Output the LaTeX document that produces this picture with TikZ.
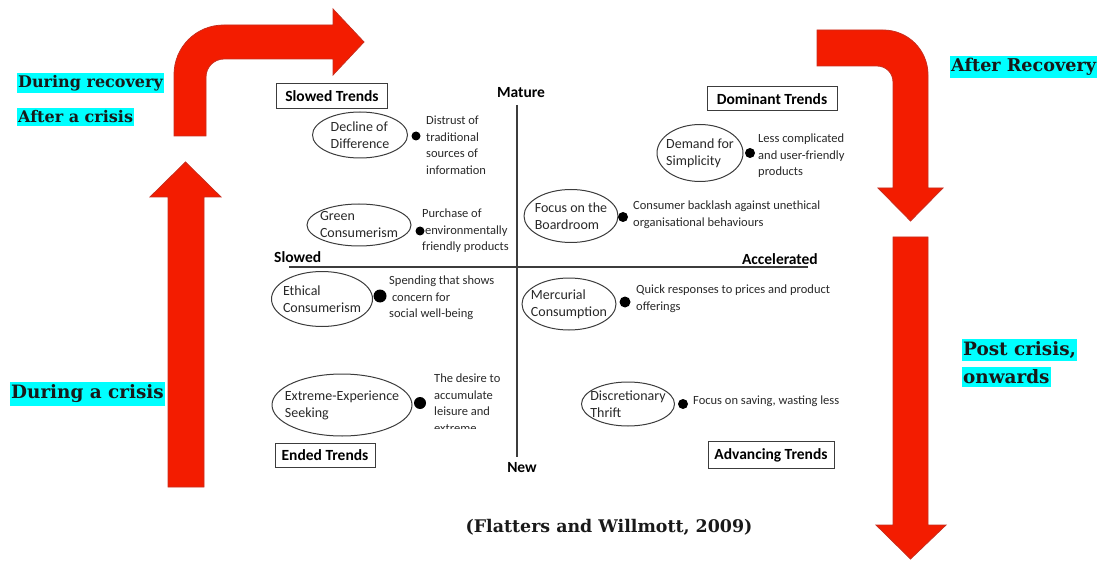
\documentclass[tikz,border=0pt]{standalone}
\usepackage{fontspec}
\setmainfont{Carlito}
\newfontfamily\slab{DejaVu Serif}
\usetikzlibrary{shapes.geometric}
\definecolor{arrowred}{RGB}{243,28,0}
\definecolor{arrowedge}{RGB}{200,45,30}
\definecolor{linegray}{RGB}{60,60,60}
\definecolor{textdark}{RGB}{40,40,40}
\definecolor{hilite}{RGB}{0,255,255}
\begin{document}
\begin{tikzpicture}[x=1pt,y=-1pt,
  bigarrow/.style={fill=arrowred,draw=arrowedge,line width=0.8pt},
  trend/.style={ellipse,draw=linegray,line width=1pt,inner xsep=-40pt,inner ysep=-14pt,
    align=left,text=textdark,font=\fontsize{14}{17}\selectfont},
  desc/.style={anchor=north west,align=left,inner sep=0pt,text=textdark,
    font=\fontsize{12.5}{16.5}\selectfont},
  dotmark/.style={circle,fill=black,inner sep=0pt,minimum size=#1},
  qbox/.style={draw=linegray,line width=1pt,text=black,inner sep=0pt,
    font=\bfseries\fontsize{15.5}{17}\selectfont},
  axlab/.style={text=black,inner sep=0pt,font=\bfseries\fontsize{15.5}{17}\selectfont},
  axline/.style={draw=linegray,line width=1.3pt},
  cyanlab/.style={fill=hilite,text=black!90,anchor=west,inner xsep=1pt,inner ysep=2.5pt,
    font=\slab\bfseries\fontsize{16}{19}\selectfont},
  cyanbig/.style={cyanlab,font=\slab\bfseries\fontsize{18.4}{22}\selectfont}
]
\useasboundingbox (0,0) rectangle (1102,561);

% ---------- big red arrows ----------
\path[bigarrow] (168,487) -- (168,197) -- (150,197) -- (185.5,162) -- (221,197) -- (204,197) -- (204,487) -- cycle;
\path[bigarrow] (174,136) -- (174,75) .. controls (174,47) and (196,25) .. (224,25)
  -- (333,25) -- (333,9) -- (364,42) -- (333,75) -- (333,59) -- (224,59)
  .. controls (214,59) and (206,67) .. (206,77) -- (206,136) -- cycle;
\path[bigarrow] (817,30) -- (883,30) .. controls (908,30) and (928,50) .. (928,75)
  -- (928,188) -- (943,188) -- (910.5,221) -- (878,188) -- (893,188) -- (893,82)
  .. controls (893,73) and (886,66) .. (877,66) -- (817,66) -- cycle;
\path[bigarrow] (893,237) -- (928,237) -- (928,525) -- (946,525) -- (910.5,559) -- (876,525) -- (893,525) -- cycle;

% ---------- cyan labels ----------
\node[cyanlab] (dr) at (17,83) {During recovery};
\node[cyanlab] (ac) at (17,117) {After a crisis};
\node[cyanbig] (dc) at (10,394) {During a crisis};
\node[cyanbig,font=\slab\bfseries\fontsize{17.6}{21}\selectfont] (ar) at (950,67) {After Recovery};
\node[cyanbig] (pc1) at (962,350) {Post crisis,};
\node[cyanbig] (pc2) at (962,377) {onwards};

% ---------- axes ----------
\coordinate (vtop) at (517,105);
\coordinate (vbot) at (517,457);
\coordinate (hl) at (289,267);
\coordinate (hr) at (808,267);
\draw[axline] (vtop) -- (vbot);
\draw[axline] (hl) -- (hr);
\node[axlab] (mature) at (521,93) {Mature};
\node[axlab] (new) at (522,468) {New};
\node[axlab,anchor=west] (slowed) at (274,257) {Slowed};
\node[axlab,anchor=east] (accel) at (818,259) {Accelerated};

% ---------- quadrant boxes ----------
\node[qbox,minimum width=111pt,minimum height=25pt] (qs) at (332,96) {Slowed Trends};
\node[qbox,minimum width=130pt,minimum height=24pt] (qd) at (772,99) {Dominant Trends};
\node[qbox,minimum width=100pt,minimum height=24pt] (qe) at (325,455) {Ended Trends};
\node[qbox,minimum width=126pt,minimum height=27pt] (qa) at (771,455) {Advancing Trends};

% ---------- trends ----------
\node[trend,minimum width=95pt,minimum height=46pt] (dec) at (360,135) {Decline of\\Difference};
\node[dotmark=9pt] (decd) at (416,136) {};
\node[desc] (dect) at (426,116) {Distrust of\\traditional\\sources of\\information};

\node[trend,minimum width=104pt,minimum height=42pt] (grn) at (359,225) {Green\\Consumerism};
\node[dotmark=9pt] (grnd) at (420,231) {};
\node[desc] (grnt) at (422,209) {Purchase of\\\ environmentally\\friendly products};

\node[trend,minimum width=101pt,minimum height=55pt] (eth) at (322,299) {Ethical\\Consumerism};
\node[dotmark=13pt] (ethd) at (380,296) {};
\node[desc] (etht) at (389,276) {Spending that shows\\\ concern for\\social well-being};

\node[trend,minimum width=140pt,minimum height=62pt] (ext) at (342,405) {Extreme-Experience\\Seeking};
\node[dotmark=12pt] (extd) at (420,403) {};
\begin{scope}
  \clip (428,360) rectangle (520,428);
  \node[desc] (extt) at (434,374) {The desire to\\accumulate\\leisure and\\extreme};
\end{scope}

\node[trend,minimum width=86pt,minimum height=57pt] (dem) at (700,153) {Demand for\\Simplicity};
\node[dotmark=10pt] (demd) at (750,153) {};
\node[desc] (demt) at (758,134) {Less complicated\\and user-friendly\\products};

\node[trend,minimum width=94pt,minimum height=53pt] (foc) at (571,216) {Focus on the\\Boardroom};
\node[dotmark=10pt] (focd) at (623,217) {};
\node[desc] (foct) at (633,201) {Consumer backlash against unethical\\organisational behaviours};

\node[trend,minimum width=94pt,minimum height=52pt] (mer) at (569,304) {Mercurial\\Consumption};
\node[dotmark=11pt] (merd) at (625,302) {};
\node[desc] (mert) at (636,285) {Quick responses to prices and product\\offerings};

\node[trend,minimum width=93pt,minimum height=44pt] (dis) at (628,404) {Discretionary\\Thrift};
\node[dotmark=10pt] (disd) at (683,404) {};
\node[desc] (dist) at (693,396) {Focus on saving, wasting less};

% ---------- citation ----------
\node[text=black!90,inner sep=0pt,font=\slab\bfseries\fontsize{17.4}{20}\selectfont] (cite) at (609,527) {(Flatters and Willmott, 2009)};
\end{tikzpicture}
\end{document}
